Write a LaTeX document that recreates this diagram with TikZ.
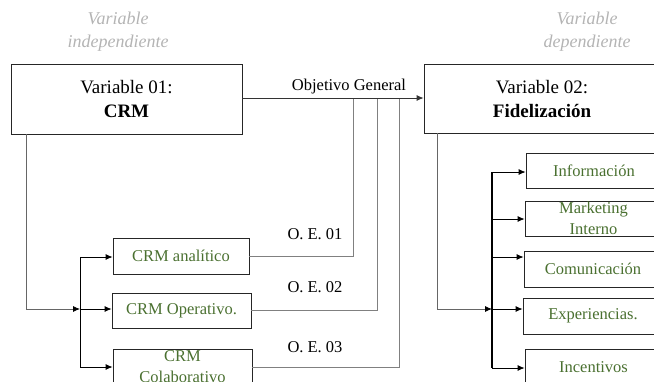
\documentclass[tikz,border=0pt]{standalone}
\usepackage{fontspec}
\setmainfont{Liberation Serif}
\usetikzlibrary{arrows.meta}
\definecolor{grn}{HTML}{4A7030}
\definecolor{lgray}{HTML}{B4B4B4}
\definecolor{cgray}{HTML}{808080}
\tikzset{
  bigbox/.style={draw=black!85, line width=0.8pt, inner sep=0pt, align=center, font=\fontsize{19}{24}\selectfont},
  smallbox/.style={draw=black!85, line width=0.8pt, inner sep=0pt, align=center, text=grn, font=\fontsize{16.5}{21}\selectfont},
  lbl/.style={inner sep=0pt, font=\fontsize{16.5}{20}\selectfont},
  varlbl/.style={inner sep=0pt, align=center, text=lgray, font=\fontsize{18}{23}\selectfont\itshape},
  conn/.style={draw=cgray, line width=0.8pt},
  trunk/.style={draw=black, line width=0.9pt},
  arr/.style={draw=black, line width=0.8pt, -{Latex[length=7pt,width=6pt]}},
  jarr/.style={draw=black!60, line width=0.8pt, -{Latex[length=7pt,width=6pt,color=black]}},
}
\begin{document}
\begin{tikzpicture}[x=1pt,y=-1pt]
\useasboundingbox (0,0) rectangle (654,381);
% top labels
\node[varlbl] (vi) at (118,32) {Variable\\independiente};
\node[varlbl] (vd) at (587,32) {Variable\\dependiente};
% main boxes
\node[bigbox, minimum width=231pt, minimum height=70pt] (v1) at (126.5,99) {Variable 01:\\\textbf{CRM}};
\node[bigbox, minimum width=236pt, minimum height=69pt] (v2) at (542,98.5) {Variable 02:\\\textbf{Fidelización}};
% left boxes
\node[smallbox, minimum width=136pt, minimum height=36pt] (an) at (181,256) {CRM analítico};
\node[smallbox, minimum width=139pt, minimum height=35pt] (op) at (181.5,310.5) {CRM Operativo.};
\node[smallbox, minimum width=139pt, minimum height=36pt] (co) at (182.5,367) {CRM\\Colaborativo};
% right boxes
\node[smallbox, minimum width=136pt, minimum height=35pt] (inf) at (594,170.5) {Información};
\node[smallbox, minimum width=137pt, minimum height=35pt] (mkt) at (593.5,218.5) {Marketing\\Interno};
\node[smallbox, minimum width=138pt, minimum height=36pt] (com) at (593,269) {Comunicación};
\node[smallbox, minimum width=140pt, minimum height=36pt] (exp) at (593,316) {Experiencias.};
\node[smallbox, minimum width=137pt, minimum height=36pt] (inc) at (593.5,367) {Incentivos};
% labels
\node[lbl] (og) at (349,87) {Objetivo General};
\node[lbl] (oe1) at (315,234) {O. E. 01};
\node[lbl] (oe2) at (315,287) {O. E. 02};
\node[lbl] (oe3) at (315,347) {O. E. 03};
% junction coordinates
\coordinate (j1) at (353,98);
\coordinate (j2) at (377,98);
\coordinate (j3) at (399,98);
\coordinate (lj) at (80,309);
\coordinate (la) at (80,257);
\coordinate (lc) at (80,367);
\coordinate (rj) at (492,309);
\coordinate (ra) at (492,172);
\coordinate (rb) at (492,219);
\coordinate (rc) at (492,257);
\coordinate (re) at (492,368);
% objective lines
\draw[conn] (an.east) -| (j1);
\draw[conn] (op.east) -| (j2);
\draw[conn] (co.east) -| (j3);
% main arrow
\draw[arr, draw=black!80] (v1.east |- j1) -- (v1.east |- j1 -| v2.west);
% left tree
\draw[jarr] (v1.south west) ++(16,0) |- (lj);
\draw[trunk] (la) -- (lc);
\draw[arr] (la) -- (la -| an.west);
\draw[arr] (lj) -- (lj -| op.west);
\draw[arr] (lc) -- (lc -| co.west);
% right tree
\draw[jarr] (v2.south west) ++(14,0) |- (rj);
\draw[trunk, line width=1.2pt] (ra) -- (re);
\draw[arr] (ra) -- (ra -| inf.west);
\draw[arr] (rb) -- (rb -| mkt.west);
\draw[arr] (rc) -- (rc -| com.west);
\draw[arr] (rj) -- (rj -| exp.west);
\draw[arr] (re) -- (re -| inc.west);
\end{tikzpicture}
\end{document}
